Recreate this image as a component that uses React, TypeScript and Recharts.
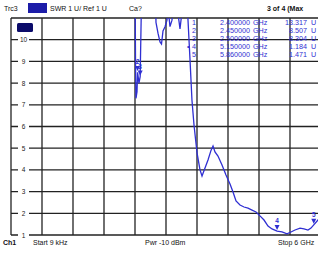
import { LineChart, Line, XAxis, YAxis, CartesianGrid, ReferenceDot } from 'recharts';

// trace: frequency (GHz) vs SWR, values above 11 run off the top of the screen
const freqGHz = [
  0, 1.2, 2.381, 2.4, 2.41, 2.419, 2.439, 2.45, 2.477, 2.5, 2.516, 2.535, 2.787, 2.806, 2.845, 2.884,
  2.913, 2.942, 2.981, 3.019, 3.039, 3.077, 3.116, 3.155, 3.232, 3.271, 3.31, 3.348, 3.387, 3.426,
  3.465, 3.503, 3.542, 3.6, 3.658, 3.697, 3.755, 3.813, 3.871, 3.91, 3.948, 4.006, 4.084, 4.161,
  4.239, 4.297, 4.355, 4.432, 4.51, 4.587, 4.665, 4.742, 4.819, 4.897, 4.974, 5.052, 5.15, 5.245,
  5.342, 5.419, 5.497, 5.594, 5.671, 5.748, 5.806, 5.86, 5.942, 6,
];
const swrValues = [
  20, 20, 20, 13.3, 9, 7.3, 7.6, 8.5, 8.0, 8.3, 10.5, 13, 14, 10.8, 10.3, 9.9,
  9.8, 10.4, 10.6, 10.9, 11.5, 10.6, 10.9, 12, 11.2, 10.5, 11.3, 12, 13, 10.9,
  9.06, 7.2, 6.07, 4.8, 4.0, 3.72, 4.09, 4.46, 4.9, 5.1, 4.83, 4.64, 4.23, 3.76,
  3.35, 2.98, 2.57, 2.38, 2.29, 2.24, 2.15, 2.06, 1.88, 1.69, 1.41, 1.28, 1.18, 1.14,
  1.05, 1.14, 1.23, 1.32, 1.28, 1.23, 1.32, 1.47, 1.69, 1.9,
];

const xTicks = [0, 0.6, 1.2, 1.8, 2.4, 3, 3.6, 4.2, 4.8, 5.4, 6];
const yTicks = [1, 2, 3, 4, 5, 6, 7, 8, 9, 10, 11];

const markerNums = [1, 2, 3, 4, 5];
const markerFreqs = [2.4, 2.45, 2.5, 5.15, 5.86];
const markerSwr = [13.317, 8.507, 8.304, 1.184, 1.471];

const data = freqGHz.map((f, i) => ({ f, swr: swrValues[i] }));

const BLUE = '#2f2fd2';
const FONT = '"Liberation Sans", Arial, sans-serif';

function YTick(props: any) {
  const v = props.payload.value;
  if (v === 11) return <g />;
  return (
    <g>
      <rect x={18} y={props.y - 4} width={11} height={8} fill="#fff" />
      <text x={23.5} y={props.y + 2.5} textAnchor="middle" fontSize={6.5} fontFamily={FONT} fill="#222">
        {v}
      </text>
    </g>
  );
}

function MarkerShape(props: any) {
  const { cx, cy, n } = props;
  return (
    <g>
      <path d={`M${cx - 2.5},${cy - 6} L${cx + 2.5},${cy - 6} L${cx},${cy - 1} Z`} fill={BLUE} />
      <text x={cx} y={cy - 8} textAnchor="middle" fontSize={6.5} fontFamily={FONT} fill={BLUE} fontWeight="bold">
        {n}
      </text>
    </g>
  );
}

export default function App() {
  return (
    <div style={{ position: 'fixed', left: 0, top: 0, width: 318, height: 262, overflow: 'hidden', background: '#fff' }}>
      <LineChart width={330} height={262} data={data} margin={{ top: 18, right: 9, bottom: 27, left: 10 }}>
        <CartesianGrid stroke="#222" strokeWidth={1.3} verticalValues={xTicks} horizontalValues={yTicks} />
        <XAxis
          dataKey="f"
          type="number"
          domain={[0, 6]}
          ticks={xTicks}
          interval={0}
          tick={() => <g />}
          axisLine={false}
          tickLine={false}
          height={0}
        />
        <YAxis
          type="number"
          domain={[1, 11]}
          ticks={yTicks}
          interval={0}
          allowDataOverflow
          width={1}
          axisLine={false}
          tickLine={false}
          tick={(p: any) => <YTick {...p} />}
        />
        <Line
          type="linear"
          dataKey="swr"
          stroke={BLUE}
          strokeWidth={1.3}
          dot={false}
          isAnimationActive={false}
        />
        {markerFreqs.map((f, i) => (
          <ReferenceDot
            key={i}
            x={f}
            y={markerSwr[i]}
            ifOverflow="discard"
            shape={(p: any) => <MarkerShape {...p} n={markerNums[i]} />}
          />
        ))}
      </LineChart>
      <svg width={318} height={262} style={{ position: 'absolute', left: 0, top: 0, pointerEvents: 'none' }}>
        <g fontFamily={FONT} fontSize={7} fill="#111">
          <text x={4} y={11}>Trc3</text>
          <rect x={28} y={3} width={19} height={10} fill="#1c1ca8" />
          <text x={50} y={11}>SWR  1 U/  Ref 1 U</text>
          <text x={129} y={11}>Ca?</text>
          <text x={267} y={11} fontWeight="bold">3 of 4 (Max</text>
          <rect x={17} y={23} width={16} height={9} rx={1.5} fill="#0b0b6a" />
          <text x={3} y={245} fontWeight="bold">Ch1</text>
          <text x={33} y={245}>Start  9 kHz</text>
          <text x={145} y={245}>Pwr  -10 dBm</text>
          <text x={278} y={245}>Stop  6 GHz</text>
        </g>
        <g fontFamily={FONT} fontSize={7.2} fill={BLUE}>
          {markerNums.map((n, i) => (
            <g key={n}>
              {n === 4 && <text x={187} y={24.5 + i * 8}>•</text>}
              <text x={192} y={24.5 + i * 8}>{n}</text>
              <text x={250} y={24.5 + i * 8} textAnchor="end">{markerFreqs[i].toFixed(6)}</text>
              <text x={253} y={24.5 + i * 8}>GHz</text>
              <text x={307} y={24.5 + i * 8} textAnchor="end">{markerSwr[i].toFixed(3)}</text>
              <text x={311} y={24.5 + i * 8}>U</text>
            </g>
          ))}
        </g>
      </svg>
    </div>
  );
}
